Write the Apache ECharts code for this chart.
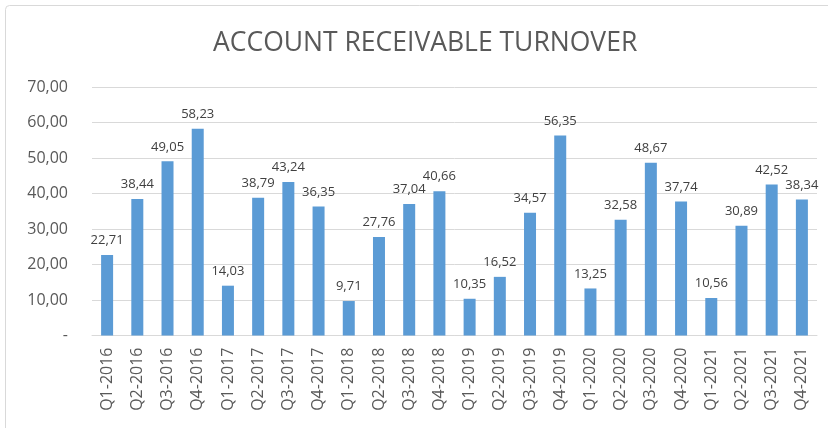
<!DOCTYPE html>
<html>
<head>
<meta charset="utf-8">
<script src="https://cdn.jsdelivr.net/npm/echarts@6/dist/echarts.min.js"></script>
<style>
html,body{margin:0;padding:0;background:#fff;}
#chart{width:828px;height:428px;}
</style>
</head>
<body>
<div id="chart"></div>
<script>
const categories = ["Q1-2016","Q2-2016","Q3-2016","Q4-2016","Q1-2017","Q2-2017","Q3-2017","Q4-2017","Q1-2018","Q2-2018","Q3-2018","Q4-2018","Q1-2019","Q2-2019","Q3-2019","Q4-2019","Q1-2020","Q2-2020","Q3-2020","Q4-2020","Q1-2021","Q2-2021","Q3-2021","Q4-2021"];
const turnover = [22.71,38.44,49.05,58.23,14.03,38.79,43.24,36.35,9.71,27.76,37.04,40.66,10.35,16.52,34.57,56.35,13.25,32.58,48.67,37.74,10.56,30.89,42.52,38.34];
const yTicks = [0,10,20,30,40,50,60,70];
const titleText = "ACCOUNT RECEIVABLE TURNOVER";

function fmt(v){ return v === 0 ? "-" : v.toFixed(2).replace('.', ','); }

const chart = echarts.init(document.getElementById('chart'), null, {renderer:'canvas'});
chart.setOption({
  animation:false,
  backgroundColor:'#fff',
  textStyle:{fontFamily:'Open Sans'},
  graphic:[{type:'rect',shape:{x:5.5,y:5.5,width:840,height:440,r:4},style:{fill:'none',stroke:'#d9d9d9',lineWidth:1},silent:true}],
  title:{text:titleText,left:208,top:25,textStyle:{fontFamily:'Open Sans',fontSize:26.5,fontWeight:'normal',color:'#595959'}},
  grid:{left:92,right:11,top:87,bottom:92.5,containLabel:false},
  xAxis:{type:'category',data:categories,
    axisLine:{lineStyle:{color:'#d9d9d9',width:1}},
    axisTick:{show:false},
    axisLabel:{rotate:90,interval:0,fontSize:16,color:'#595959',margin:12,fontFamily:'Open Sans'}},
  yAxis:{type:'value',min:yTicks[0],max:yTicks[yTicks.length-1],interval:10,
    axisLine:{show:false},axisTick:{show:false},
    splitLine:{lineStyle:{color:'#d9d9d9',width:1}},
    axisLabel:{formatter:fmt,fontSize:16,color:'#595959',margin:24,fontFamily:'Open Sans'}},
  series:[{type:'bar',data:turnover,barWidth:12,itemStyle:{color:'#5b9bd5'},
    label:{show:true,position:'top',distance:8,formatter:p=>fmt(p.value),fontSize:13,color:'#404040',fontFamily:'Open Sans'}}]
});
</script>
</body>
</html>
